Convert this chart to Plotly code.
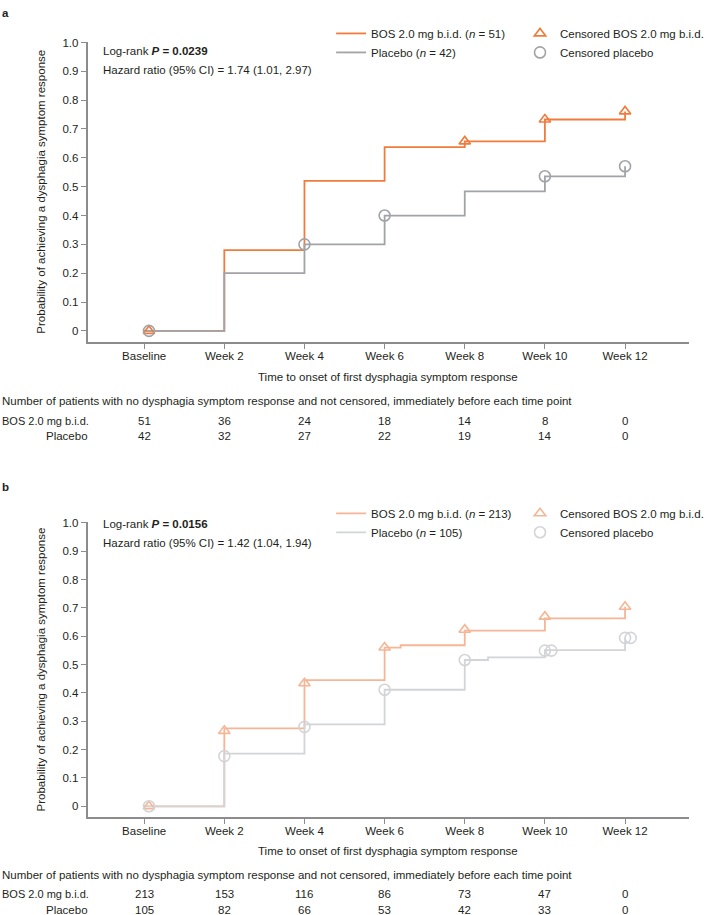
import plotly.graph_objects as go

W, H = 709, 915
FONT = "Arial, Liberation Sans, sans-serif"
TXT = "#231F20"
AX = "#8C8C8C"

# ---------------- data ----------------
weeks = [0, 2, 4, 6, 8, 10, 12]
week_labels = ["Baseline", "Week 2", "Week 4", "Week 6", "Week 8", "Week 10", "Week 12"]
y_ticks = [0, 0.1, 0.2, 0.3, 0.4, 0.5, 0.6, 0.7, 0.8, 0.9, 1.0]
y_tick_labels = ["0", "0.1", "0.2", "0.3", "0.4", "0.5", "0.6", "0.7", "0.8", "0.9", "1.0"]

# panel a
a_bos_t = [0, 2, 4, 6, 8, 10, 12]
a_bos_p = [0, 0.28, 0.52, 0.637, 0.657, 0.733, 0.761]
a_pbo_t = [0, 2, 4, 6, 8, 10, 12]
a_pbo_p = [0, 0.20, 0.30, 0.40, 0.484, 0.536, 0.571]
a_bos_cens_t = [0.12, 8, 10, 12]
a_bos_cens_p = [0, 0.657, 0.733, 0.761]
a_pbo_cens_t = [0.12, 4, 6, 10, 12]
a_pbo_cens_p = [0, 0.30, 0.40, 0.536, 0.571]
a_bos_risk = [51, 36, 24, 18, 14, 8, 0]
a_pbo_risk = [42, 32, 27, 22, 19, 14, 0]

# panel b
b_bos_t = [0, 2, 4, 6, 6.4, 8, 10, 12]
b_bos_p = [0, 0.275, 0.445, 0.56, 0.568, 0.62, 0.663, 0.704]
b_pbo_t = [0, 2, 4, 6, 8, 8.58, 10, 12]
b_pbo_p = [0, 0.186, 0.289, 0.411, 0.516, 0.525, 0.551, 0.594]
b_bos_cens_t = [0.12, 2, 4, 6, 8, 10, 12]
b_bos_cens_p = [0, 0.266, 0.434, 0.560, 0.623, 0.669, 0.704]
b_pbo_cens_t = [0.12, 2, 4, 6, 8, 10, 10.16, 12, 12.14]
b_pbo_cens_p = [0, 0.177, 0.280, 0.411, 0.516, 0.549, 0.549, 0.594, 0.594]
b_bos_risk = [213, 153, 116, 86, 73, 47, 0]
b_pbo_risk = [105, 82, 66, 53, 42, 33, 0]

# ---------------- styling ----------------
A_ORANGE, A_GRAY = "#EF7C3C", "#A2A3A8"
B_ORANGE, B_GRAY = "#F6B595", "#D2D4D8"


def py(p):
    return 1 - p / H


def pxx(p):
    return p / W


fig = go.Figure()

panels = [
    dict(xa="x", ya="y", bt=a_bos_t, bp=a_bos_p, pt=a_pbo_t, pp=a_pbo_p,
         bct=a_bos_cens_t, bcp=a_bos_cens_p, pct=a_pbo_cens_t, pcp=a_pbo_cens_p,
         orange=A_ORANGE, gray=A_GRAY, nb=51, npbo=42, lg1="legend", lg2="legend2"),
    dict(xa="x2", ya="y2", bt=b_bos_t, bp=b_bos_p, pt=b_pbo_t, pp=b_pbo_p,
         bct=b_bos_cens_t, bcp=b_bos_cens_p, pct=b_pbo_cens_t, pcp=b_pbo_cens_p,
         orange=B_ORANGE, gray=B_GRAY, nb=213, npbo=105, lg1="legend3", lg2="legend4"),
]

for pn in panels:
    fig.add_trace(go.Scatter(x=pn["bt"], y=pn["bp"], mode="lines", line_shape="hv",
                             line=dict(color=pn["orange"], width=1.8),
                             name=f"BOS 2.0 mg b.i.d. (<i>n</i> = {pn['nb']})",
                             xaxis=pn["xa"], yaxis=pn["ya"], legend=pn["lg1"]))
    fig.add_trace(go.Scatter(x=pn["pt"], y=pn["pp"], mode="lines", line_shape="hv",
                             line=dict(color=pn["gray"], width=1.8),
                             name=f"Placebo (<i>n</i> = {pn['npbo']})",
                             xaxis=pn["xa"], yaxis=pn["ya"], legend=pn["lg1"]))
    fig.add_trace(go.Scatter(x=pn["bct"], y=pn["bcp"], mode="markers",
                             marker=dict(symbol="triangle-up-open", size=10, color=pn["orange"],
                                         line=dict(width=1.6, color=pn["orange"])),
                             name="Censored BOS 2.0 mg b.i.d.",
                             xaxis=pn["xa"], yaxis=pn["ya"], legend=pn["lg2"]))
    fig.add_trace(go.Scatter(x=pn["pct"], y=pn["pcp"], mode="markers",
                             marker=dict(symbol="circle-open", size=11, color=pn["gray"],
                                         line=dict(width=1.6, color=pn["gray"])),
                             name="Censored placebo",
                             xaxis=pn["xa"], yaxis=pn["ya"], legend=pn["lg2"]))

XDOM = [88 / W, 693 / W]
XRANGE = [-1.414, 13.598]
YRANGE = [-0.039, 1.003]
A_TOP, A_BOT = 36.8, 339.0
B_TOP, B_BOT = 519.8, 816.8

axis_common = dict(showline=True, linecolor=AX, linewidth=1.5, ticks="outside", ticklen=5,
                   tickwidth=1.2, tickcolor=AX, showgrid=False, zeroline=False,
                   tickfont=dict(family=FONT, size=11.5, color=TXT), fixedrange=True)

fig.update_layout(
    xaxis=dict(domain=XDOM, range=XRANGE, tickvals=weeks, ticktext=week_labels, anchor="y",
               ticklabelstandoff=-3, **axis_common),
    yaxis=dict(domain=[py(A_BOT), py(A_TOP)], range=YRANGE, tickvals=y_ticks, ticktext=y_tick_labels,
               anchor="x", **axis_common),
    xaxis2=dict(domain=XDOM, range=XRANGE, tickvals=weeks, ticktext=week_labels, anchor="y2",
                ticklabelstandoff=-3, **axis_common),
    yaxis2=dict(domain=[py(B_BOT), py(B_TOP)], range=YRANGE, tickvals=y_ticks, ticktext=y_tick_labels,
                anchor="x2", **axis_common),
)

leg_common = dict(xanchor="left", yanchor="top", bgcolor="rgba(0,0,0,0)", borderwidth=0,
                  itemwidth=30, tracegroupgap=0, orientation="v",
                  font=dict(family=FONT, size=11.5, color=TXT))
fig.update_layout(
    legend=dict(x=pxx(333), y=py(14), **leg_common),
    legend2=dict(x=pxx(523), y=py(14), **leg_common),
    legend3=dict(x=pxx(333), y=py(496.5), **leg_common),
    legend4=dict(x=pxx(523), y=py(496.5), **leg_common),
)

ann = []
f = dict(family=FONT, size=11.5, color=TXT)


def text(x, y, s, xanchor="left", angle=0, xref="paper", size=11.5):
    ann.append(dict(x=x, y=y, xref=xref, yref="paper", text=s, showarrow=False, xanchor=xanchor,
                    yanchor="middle", textangle=angle, font=dict(family=FONT, size=size, color=TXT)))


header = "Number of patients with no dysphagia symptom response and not censored, immediately before each time point"
panel_info = [
    dict(label="a", label_y=8, top=A_TOP, bot=A_BOT, lr_y=46, hr_y=65.7, pval="0.0239",
         hr="1.74 (1.01, 2.97)", xt_y=374, hd_y=398, r1=418, r2=433, br=a_bos_risk, pr=a_pbo_risk, xref="x"),
    dict(label="b", label_y=485, top=B_TOP, bot=B_BOT, lr_y=522, hr_y=541, pval="0.0156",
         hr="1.42 (1.04, 1.94)", xt_y=851, hd_y=875, r1=894, r2=910, br=b_bos_risk, pr=b_pbo_risk, xref="x2"),
]
for pi in panel_info:
    text(0, py(pi["label_y"]), f"<b>{pi['label']}</b>")
    text(pxx(41), py((pi["top"] + pi["bot"]) / 2), "Probability of achieving a dysphagia symptom response",
         xanchor="center", angle=-90)
    text(pxx(102), py(pi["lr_y"]), f"Log-rank <b><i>P</i> = {pi['pval']}</b>")
    text(pxx(102), py(pi["hr_y"]), f"Hazard ratio (95% CI) = {pi['hr']}")
    text((XDOM[0] + XDOM[1]) / 2, py(pi["xt_y"]), "Time to onset of first dysphagia symptom response",
         xanchor="center")
    text(0, py(pi["hd_y"]), header)
    text(0, py(pi["r1"]), "BOS 2.0 mg b.i.d.", xanchor="left", size=11)
    text(pxx(91), py(pi["r2"]), "Placebo", xanchor="right")
    for wk, n1, n2 in zip(weeks, pi["br"], pi["pr"]):
        text(wk, py(pi["r1"]), str(n1), xanchor="center", xref=pi["xref"])
        text(wk, py(pi["r2"]), str(n2), xanchor="center", xref=pi["xref"])

fig.update_layout(
    annotations=ann,
    width=W, height=H, autosize=False,
    margin=dict(l=0, r=0, t=0, b=0, pad=0),
    paper_bgcolor="white", plot_bgcolor="white",
    font=dict(family=FONT, size=11.5, color=TXT),
    showlegend=True,
)

fig.write_html("out.html", config={"displayModeBar": False})
